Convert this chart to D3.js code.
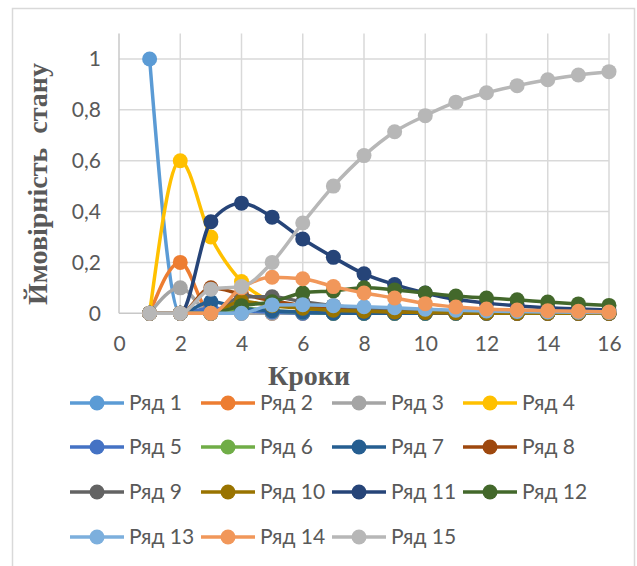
<!DOCTYPE html>
<html>
<head>
<meta charset="utf-8">
<script src="https://cdn.jsdelivr.net/npm/d3@7"></script>
<style>
  body { margin: 0; background: #fff; }
  svg { display: block; }
</style>
</head>
<body>
<div id="chart"></div>
<script>
// steps 1..16
var steps = d3.range(1, 17);
var seriesNames = ["Ряд 1","Ряд 2","Ряд 3","Ряд 4","Ряд 5","Ряд 6","Ряд 7","Ряд 8",
                   "Ряд 9","Ряд 10","Ряд 11","Ряд 12","Ряд 13","Ряд 14","Ряд 15"];
var colors = ["#5B9BD5","#ED7D31","#A5A5A5","#FFC000","#4472C4","#70AD47","#255E91","#9E480E",
              "#636363","#997300","#264478","#43682B","#7CAFDD","#F1975A","#B7B7B7"];

var r1  = [1,0,0,0,0,0,0,0,0,0,0,0,0,0,0,0];
var r2  = [0,0.2,0,0,0,0,0,0,0,0,0,0,0,0,0,0];
var r3  = [0,0.1,0,0,0,0,0,0,0,0,0,0,0,0,0,0];
var r4  = [0,0.6,0.3,0.125,0.045,0.02,0.01,0.005,0,0,0,0,0,0,0,0];
var r5  = [0,0,0.02,0.01,0.005,0,0,0,0,0,0,0,0,0,0,0];
var r6  = [0,0,0,0.02,0.01,0.005,0,0,0,0,0,0,0,0,0,0];
var r7  = [0,0,0.045,0.02,0.01,0.005,0,0,0,0,0,0,0,0,0,0];
var r8  = [0,0,0.1,0.075,0.05,0.03,0.018,0.01,0.006,0.004,0.002,0.001,0,0,0,0];
var r9  = [0,0,0,0.065,0.065,0.045,0.03,0.02,0.013,0.008,0.005,0.003,0.002,0.001,0,0];
var r10 = [0,0,0,0.047,0.03,0.02,0.012,0.008,0.005,0.003,0.002,0.001,0,0,0,0];
var r11 = [0,0,0.36,0.433,0.378,0.292,0.22,0.155,0.113,0.08,0.055,0.04,0.03,0.022,0.017,0.013];
var r12 = [0,0,0,0.03,0.045,0.08,0.088,0.1,0.092,0.08,0.068,0.06,0.053,0.044,0.037,0.031];
var r13 = [0,0,0,0,0.033,0.034,0.03,0.026,0.022,0.016,0.012,0.009,0.007,0.005,0.004,0.003];
var r14 = [0,0,0,0.1,0.142,0.136,0.105,0.08,0.06,0.038,0.025,0.017,0.013,0.01,0.008,0.005];
var r15 = [0,0,0.095,0.105,0.2,0.355,0.5,0.62,0.714,0.777,0.83,0.867,0.895,0.918,0.937,0.95];
var values = [r1,r2,r3,r4,r5,r6,r7,r8,r9,r10,r11,r12,r13,r14,r15];

var xTicks = [0,2,4,6,8,10,12,14,16];
var yTicks = [0,0.2,0.4,0.6,0.8,1];

var width = 637, height = 566;
var svg = d3.select("#chart").append("svg")
    .attr("width", width)
    .attr("height", height);

// chart area border
svg.append("rect")
    .attr("x", 12.5).attr("y", 8.5)
    .attr("width", 622).attr("height", 600)
    .attr("fill", "none")
    .attr("stroke", "#d9d9d9")
    .attr("stroke-width", 1.5);

var x = d3.scaleLinear().domain([0, 16]).range([119, 609]);
var y = d3.scaleLinear().domain([0, 1.1]).range([313.3, 33.5]);

var grid = svg.append("g").attr("class", "grid");
grid.selectAll("line.h")
    .data(yTicks.slice(1))
    .enter().append("line")
    .attr("x1", x(0)).attr("x2", x(16))
    .attr("y1", function(d) { return y(d); })
    .attr("y2", function(d) { return y(d); })
    .attr("stroke", "#d9d9d9").attr("stroke-width", 1.5);
grid.selectAll("line.v")
    .data(xTicks.slice(1))
    .enter().append("line")
    .attr("y1", y(0)).attr("y2", y(1.1))
    .attr("x1", function(d) { return x(d); })
    .attr("x2", function(d) { return x(d); })
    .attr("stroke", "#d9d9d9").attr("stroke-width", 1.5);

// axis lines
svg.append("line")
    .attr("x1", x(0)).attr("x2", x(0)).attr("y1", y(0)).attr("y2", y(1.1))
    .attr("stroke", "#c8c8c8").attr("stroke-width", 1.5);
svg.append("line")
    .attr("x1", x(0)).attr("x2", x(16)).attr("y1", y(0)).attr("y2", y(0))
    .attr("stroke", "#c8c8c8").attr("stroke-width", 1.5);

// tick labels via d3 axes, without domain/tick lines
var xAxis = svg.append("g")
    .attr("transform", "translate(0," + y(0) + ")")
    .call(d3.axisBottom(x).tickValues(xTicks).tickSize(0).tickPadding(27));
var yAxis = svg.append("g")
    .attr("transform", "translate(" + x(0) + ",0)")
    .call(d3.axisLeft(y).tickValues(yTicks).tickSize(0).tickPadding(18)
      .tickFormat(function(d) { return d3.format("~g")(d).replace(".", ","); }));
[xAxis, yAxis].forEach(function(a) {
  a.select(".domain").remove();
  a.selectAll("text")
    .attr("fill", "#595959")
    .style("font-family", "Lato, 'Open Sans', sans-serif")
    .style("font-size", "21px");
});
xAxis.selectAll("text").attr("dy", "0.5em");

// titles
svg.append("text")
    .attr("x", 309).attr("y", 385)
    .attr("text-anchor", "middle")
    .attr("fill", "#595959")
    .style("font-family", "'Liberation Serif', 'DejaVu Serif', serif")
    .style("font-weight", "bold")
    .style("font-size", "28px")
    .text("Кроки");
svg.append("text")
    .attr("transform", "translate(47,184) rotate(-90)")
    .attr("text-anchor", "middle")
    .attr("fill", "#595959")
    .style("font-family", "'Liberation Serif', 'DejaVu Serif', serif")
    .style("font-weight", "bold")
    .style("font-size", "28px")
    .style("white-space", "pre")
    .text("Ймовірність  стану");

// series (smoothed lines with markers, drawn in order)
var line = d3.line()
    .x(function(d, i) { return x(steps[i]); })
    .y(function(d) { return y(d); })
    .curve(d3.curveMonotoneX);

var plot = svg.append("g").attr("class", "series");
values.forEach(function(vals, k) {
  var g = plot.append("g");
  g.append("path")
    .attr("d", line(vals))
    .attr("fill", "none")
    .attr("stroke", colors[k])
    .attr("stroke-width", 3.5)
    .attr("stroke-linejoin", "round");
  g.selectAll("circle")
    .data(vals)
    .enter().append("circle")
    .attr("cx", function(d, i) { return x(steps[i]); })
    .attr("cy", function(d) { return y(d); })
    .attr("r", 7.5)
    .attr("fill", colors[k]);
});

// legend
var legend = svg.append("g").attr("class", "legend");
var colX = [70, 201, 332, 463], rowY = [403, 447, 492, 537];
seriesNames.forEach(function(name, k) {
  var lx = colX[k % 4], ly = rowY[Math.floor(k / 4)];
  var item = legend.append("g").attr("transform", "translate(" + lx + "," + ly + ")");
  item.append("line")
    .attr("x1", 0).attr("x2", 54).attr("y1", 0).attr("y2", 0)
    .attr("stroke", colors[k]).attr("stroke-width", 3.5);
  item.append("circle")
    .attr("cx", 27).attr("cy", 0).attr("r", 7.5)
    .attr("fill", colors[k]);
  item.append("text")
    .attr("x", 59).attr("y", 0).attr("dy", "0.35em")
    .attr("fill", "#595959")
    .style("font-family", "Lato, 'Open Sans', sans-serif")
    .style("font-size", "21px")
    .text(name);
});
</script>
</body>
</html>
